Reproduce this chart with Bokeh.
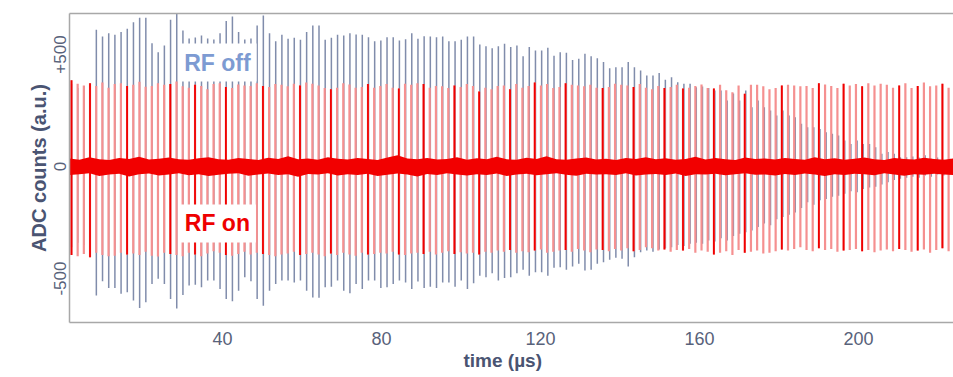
import numpy as np
from bokeh.plotting import figure
from bokeh.models import Label, LinearAxis, FixedTicker, Range1d, Title
from bokeh.embed import file_html
from bokeh.resources import INLINE

# Trigger timing of the two pulse trains (µs)
on_first_pulse_us = 2.0
on_period_us = 1.554
off_first_pulse_us = 2.03
off_period_us = 1.556

# RF off: pulse peak (positive) and trough (negative) amplitudes, ADC counts
off_hi = [370, 350, 360, 345, 610, 580, 595, 588, 600, 615,
          644, 664, 664, 550, 510, 540, 655, 700, 607, 571,
          576, 585, 571, 567, 595, 649, 670, 600, 567, 571,
          629, 674, 595, 559, 588, 570, 575, 566, 600, 630,
          630, 566, 575, 588, 585, 595, 589, 588, 577, 559,
          562, 577, 577, 562, 568, 595, 570, 582, 580, 577,
          580, 559, 559, 566, 580, 580, 545, 537, 528, 537,
          548, 533, 540, 492, 533, 518, 518, 530, 495, 510,
          508, 476, 481, 503, 492, 483, 466, 439, 443, 443,
          466, 443, 429, 406, 406, 417, 387, 399, 376, 369,
          369, 354, 357, 351, 339, 339, 295, 326, 295, 339,
          265, 295, 265, 250, 228, 250, 228, 220, 191, 175,
          175, 168, 153, 146, 138, 116, 101, 116, 101, 101,
          86, 57, 65, 57, 42, 42, 45, 40, 50, 35,
          40, 30, 35]
off_lo = [-360, -340, -350, -330, -576, -512, -542, -542, -568, -561,
          -598, -631, -606, -524, -501, -524, -591, -633, -573, -531,
          -527, -539, -509, -509, -546, -591, -601, -554, -494, -512,
          -591, -621, -554, -524, -509, -509, -517, -509, -554, -584,
          -586, -539, -536, -509, -554, -566, -524, -546, -509, -509,
          -542, -539, -524, -509, -517, -546, -513, -542, -536, -542,
          -517, -517, -536, -509, -546, -521, -487, -494, -476, -509,
          -497, -494, -476, -461, -487, -472, -472, -487, -452, -449,
          -461, -446, -434, -464, -461, -434, -427, -416, -407, -412,
          -446, -405, -382, -375, -380, -370, -365, -360, -350, -355,
          -345, -340, -345, -330, -335, -320, -330, -310, -300, -293,
          -285, -270, -254, -262, -235, -225, -215, -205, -185, -159,
          -170, -150, -145, -135, -130, -121, -110, -115, -100, -94,
          -90, -80, -70, -60, -55, -50, -45, -50, -40, -45,
          -35, -40, -35]

# RF on: pulse peak and trough amplitudes, ADC counts
on_hi = [385, 370, 362, 372, 360, 375, 352, 368, 372, 360,
         365, 378, 356, 360, 372, 365, 368, 380, 358, 352,
         365, 360, 345, 368, 372, 355, 350, 366, 362, 360,
         372, 360, 355, 368, 365, 358, 370, 362, 375, 370,
         362, 350, 345, 352, 372, 366, 352, 355, 368, 352,
         360, 368, 352, 348, 370, 365, 372, 368, 352, 360,
         358, 350, 362, 355, 368, 360, 335, 352, 345, 360,
         362, 345, 368, 352, 360, 375, 362, 368, 350, 355,
         372, 365, 362, 358, 365, 352, 350, 355, 370, 365,
         362, 355, 368, 352, 345, 360, 350, 355, 365, 348,
         352, 360, 366, 350, 348, 365, 340, 332, 362, 325,
         365, 365, 358, 345, 350, 362, 365, 362, 358, 360,
         350, 372, 366, 360, 350, 370, 362, 368, 358, 372,
         362, 370, 365, 352, 362, 372, 350, 360, 375, 358,
         362, 370, 352]
on_lo = [-395, -400, -390, -405, -385, -395, -400, -398, -385, -392,
         -388, -395, -380, -398, -402, -385, -390, -395, -400, -385,
         -392, -400, -388, -378, -385, -395, -398, -390, -380, -392,
         -385, -390, -395, -400, -392, -388, -380, -395, -390, -385,
         -392, -400, -388, -395, -385, -392, -398, -385, -392, -390,
         -385, -388, -380, -392, -395, -388, -385, -390, -380, -392,
         -385, -378, -390, -382, -388, -385, -392, -380, -385, -375,
         -380, -372, -385, -378, -382, -375, -370, -385, -380, -375,
         -372, -380, -368, -375, -382, -370, -372, -378, -368, -375,
         -365, -378, -372, -360, -365, -375, -370, -380, -372, -375,
         -368, -385, -375, -380, -392, -385, -378, -395, -372, -385,
         -380, -375, -388, -385, -378, -370, -375, -368, -360, -372,
         -378, -365, -372, -368, -380, -375, -372, -368, -378, -372,
         -382, -375, -370, -378, -368, -372, -380, -375, -370, -385,
         -372, -365, -378]
# pulses whose RF-on trace is recorded at full intensity
on_strong = [0, 3, 9, 16, 20, 25, 31, 37, 42, 48, 53, 57, 62, 66, 71, 75,
             80, 86, 91, 96, 99, 104, 109, 115, 121, 125, 128, 134, 137, 141]

# Baseline noise envelope (RF on), sampled every 2.5 µs
noise_hi = [36, 30, 42, 32, 29, 38, 34, 44, 31, 35,
            40, 33, 30, 37, 42, 32, 30, 38, 34, 29,
            39, 34, 46, 32, 36, 30, 41, 35, 31, 38,
            34, 29, 40, 50, 36, 32, 38, 31, 34, 42,
            30, 37, 33, 44, 32, 30, 39, 34, 46, 33,
            30, 36, 40, 31, 35, 29, 38, 34, 42, 32,
            37, 30, 34, 44, 31, 38, 33, 29, 40, 34,
            36, 31, 38, 34, 30, 42, 32, 37, 30, 35,
            40, 33, 29, 38, 34, 31, 39, 34, 30, 36]
noise_lo = [-38, -34, -30, -42, -36, -32, -44, -34, -31, -40,
            -35, -30, -39, -34, -42, -37, -32, -30, -41, -35,
            -31, -38, -34, -45, -33, -36, -30, -40, -34, -38,
            -32, -42, -37, -31, -35, -44, -33, -38, -30, -36,
            -40, -34, -38, -31, -42, -35, -32, -39, -34, -30,
            -37, -41, -32, -36, -34, -38, -30, -40, -35, -33,
            -38, -31, -42, -34, -36, -32, -39, -34, -30, -37,
            -35, -40, -33, -38, -31, -36, -42, -34, -38, -32,
            -34, -39, -30, -36, -41, -34, -37, -32, -35, -38]

x_ticks = [40, 80, 120, 160, 200]
y_ticks = [-500, 0, 500]
y_tick_labels = {-500: "-500", 0: "0", 500: "+500"}

FONT = "Liberation Sans"
TICK_COLOR = "#58627a"
TITLE_COLOR = "#4a5472"
FRAME_COLOR = "#a8a8a8"

t_on = on_first_pulse_us + on_period_us * np.arange(len(on_hi))
t_off = off_first_pulse_us + off_period_us * np.arange(len(off_hi))
t_noise = 1.5 + 2.5 * np.arange(len(noise_hi))
strong = np.array(on_strong)

p = figure(width=953, height=377, x_range=Range1d(1.5, 223.9), y_range=Range1d(-696, 683),
           output_backend="svg", toolbar_location=None,
           min_border_left=69, min_border_right=0, min_border_top=13, min_border_bottom=55)
p.grid.visible = False
p.outline_line_color = None
p.background_fill_color = "white"

# RF off trace
p.segment(x0=t_off, y0=off_lo, x1=t_off, y1=off_hi, line_color="#56658f", line_alpha=0.75,
          line_width=1.5)
# RF on trace
p.segment(x0=t_on, y0=on_lo, x1=t_on, y1=on_hi, line_color="#f59090", line_width=2.2)
p.segment(x0=t_on[strong], y0=np.array(on_lo)[strong], x1=t_on[strong],
          y1=np.array(on_hi)[strong], line_color="#f00000", line_width=1.8)
p.varea(x=t_noise, y1=noise_lo, y2=noise_hi, fill_color="#f20000", fill_alpha=1.0)

# axes
for ax in (p.xaxis[0], p.yaxis[0]):
    ax.axis_line_color = FRAME_COLOR
    ax.axis_line_width = 1.5
    ax.major_tick_line_color = None
    ax.minor_tick_line_color = None
    ax.major_tick_out = 0
    ax.major_tick_in = 0
    ax.major_label_text_font = FONT
    ax.major_label_text_color = TICK_COLOR
    ax.axis_label_text_font = FONT
    ax.axis_label_text_font_style = "bold"
    ax.axis_label_text_color = TITLE_COLOR

p.xaxis.ticker = FixedTicker(ticks=x_ticks)
p.xaxis.major_label_text_font_size = "18px"
p.xaxis.major_label_standoff = 9

p.yaxis.ticker = FixedTicker(ticks=y_ticks)
p.yaxis.major_label_overrides = y_tick_labels
p.yaxis.major_label_orientation = "vertical"
p.yaxis.major_label_text_font_size = "17px"
p.yaxis.axis_label = "ADC counts (a.u.)"
p.yaxis.axis_label_text_font_size = "20px"
p.yaxis.major_label_standoff = 3
p.yaxis.axis_label_standoff = 2

top = LinearAxis(ticker=FixedTicker(ticks=[]), axis_line_color=FRAME_COLOR, axis_line_width=1.5,
                 major_tick_line_color=None, minor_tick_line_color=None,
                 major_tick_out=0, major_tick_in=0, major_label_text_font_size="0px",
                 major_label_standoff=0)
p.add_layout(top, "above")

# x-axis title, set under the tick labels
p.add_layout(Title(text="time (µs)", align="left", offset=394, standoff=0, text_font=FONT,
                   text_font_style="bold", text_font_size="19px", text_color=TITLE_COLOR),
             "below")

p.add_layout(Label(x=38.7, y=464, text="RF off", text_font=FONT, text_font_style="bold",
                   text_font_size="23px", text_color="#7d9bd2", text_align="center",
                   text_baseline="middle", background_fill_color="white",
                   background_fill_alpha=1.0, padding=6))
p.add_layout(Label(x=38.7, y=-254, text="RF on", text_font=FONT, text_font_style="bold",
                   text_font_size="23px", text_color="#ee0000", text_align="center",
                   text_baseline="middle", background_fill_color="white",
                   background_fill_alpha=1.0, padding=6))

open("out.html", "w").write(file_html(p, INLINE))
